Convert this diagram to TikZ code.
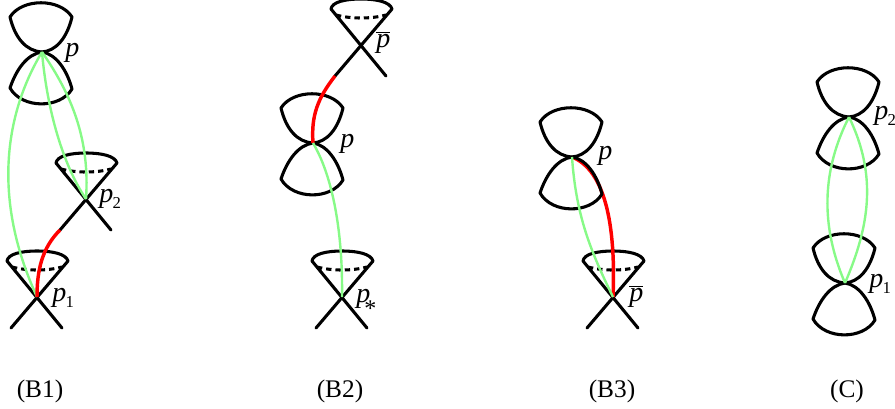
\documentclass[tikz,border=0pt]{standalone}
\usepackage{fontspec}
\setmainfont{Liberation Serif}
\newcommand{\lblsub}[2]{{\itshape #1}\kern-0.02em\raisebox{-4.5pt}{\fontsize{12.5pt}{14pt}\selectfont #2}}
\tikzset{
  x=0.75pt,y=-0.75pt,
  blk/.style={draw=black,line width=2.3pt,line join=round,line cap=round},
  dsh/.style={draw=black,line width=2.3pt,dash pattern=on 4pt off 3pt},
  grn/.style={draw={rgb,255:red,135;green,250;blue,135},line width=1.8pt},
  rd/.style={draw=red,line width=2.6pt},
  lbl/.style={inner sep=0pt,anchor=base west,font=\fontsize{21pt}{23pt}\selectfont},
  capt/.style={inner sep=0pt,font=\fontsize{19pt}{21pt}\selectfont},
  hourglass/.pic={
    \path[blk] (0,0) .. controls (-16,-1) and (-27,-14) .. (-32,-35)
      .. controls (-20,-54) and (18,-54) .. (30,-35)
      .. controls (25,-14) and (14,-1) .. (0,0);
    \path[blk] (0,0) .. controls (-15,2) and (-26,18) .. (-32,36)
      .. controls (-20,57) and (18,57) .. (30,37)
      .. controls (25,18) and (14,2) .. (0,0);
  },
  cone/.pic={
    \coordinate (-ll) at (-26,31);
    \coordinate (-lr) at (25,31);
    \path[blk] (-ll) -- (31,-36) .. controls (29,-43) and (16,-46) .. (0,-46)
      .. controls (-16,-46) and (-29,-43) .. (-30,-36) -- (-lr);
    \path[dsh] (-25,-30) .. controls (-10,-26) and (10,-26) .. (25,-30);
  }
}
\begin{document}
\begin{tikzpicture}
\useasboundingbox (0,0) rectangle (895,408);
\coordinate (ac) at (42,52);
\coordinate (bc) at (86,199);
\coordinate (dc) at (37,297);
\coordinate (ec) at (361,45);
\coordinate (fc) at (313,143);
\coordinate (gc) at (342,297);
\coordinate (hc) at (572,157);
\coordinate (ic) at (613,297);
\coordinate (jc) at (849,117);
\coordinate (kc) at (845,283);
% B1
\pic (a) at (ac) {hourglass};
\pic (b) at (bc) {cone};
\pic (d) at (dc) {cone};
\path[grn] (ac) .. controls (10,105) and (-12,190) .. (dc);
\path[grn] (ac) .. controls (47,110) and (63,165) .. (bc);
\path[grn] (ac) .. controls (72,95) and (90,140) .. (bc);
\path[rd] (dc) .. controls (37,270) and (42,248) .. (b-ll);
% B2
\pic (e) at (ec) {cone};
\pic (f) at (fc) {hourglass};
\pic (g) at (gc) {cone};
\path[rd] (fc) .. controls (311,115) and (318,98) .. (e-ll);
\path[grn] (fc) .. controls (332,175) and (343,230) .. (gc);
% B3
\pic (i) at (ic) {cone};
\path[rd] (hc) .. controls (605,170) and (616,225) .. (ic);
\pic (h) at (hc) {hourglass};
\path[grn] (hc) .. controls (576,215) and (590,250) .. (ic);
% C
\pic (j) at (jc) {hourglass};
\pic (k) at (kc) {hourglass};
\path[grn] (jc) .. controls (822,170) and (820,225) .. (kc);
\path[grn] (jc) .. controls (877,175) and (870,225) .. (kc);
% labels
\node[lbl] (l1) at (65,56) {\itshape p};
\node[lbl] (l2) at (99,202) {\lblsub{p}{2}};
\node[lbl] (l3) at (52,301) {\lblsub{p}{1}};
\node[lbl] (l4) at (376,47) {$\overline{\hbox{\itshape p}}$};
\node[lbl] (l5) at (340,147) {\itshape p};
\node[lbl] (l6) at (356,302) {{\itshape p}\kern-4.5pt\raisebox{-11pt}{\fontsize{18pt}{19pt}\selectfont *}};
\node[lbl] (l7) at (598,159) {\itshape p};
\node[lbl] (l8) at (629,301) {$\overline{\hbox{\itshape p}}$};
\node[lbl] (l9) at (874,119) {\lblsub{p}{2}};
\node[lbl] (l10) at (869,287) {\lblsub{p}{1}};
\node[capt] (c1) at (40,391) {(B1)};
\node[capt] (c2) at (340,391) {(B2)};
\node[capt] (c3) at (612,391) {(B3)};
\node[capt] (c4) at (847,391) {(C)};
\end{tikzpicture}
\end{document}
